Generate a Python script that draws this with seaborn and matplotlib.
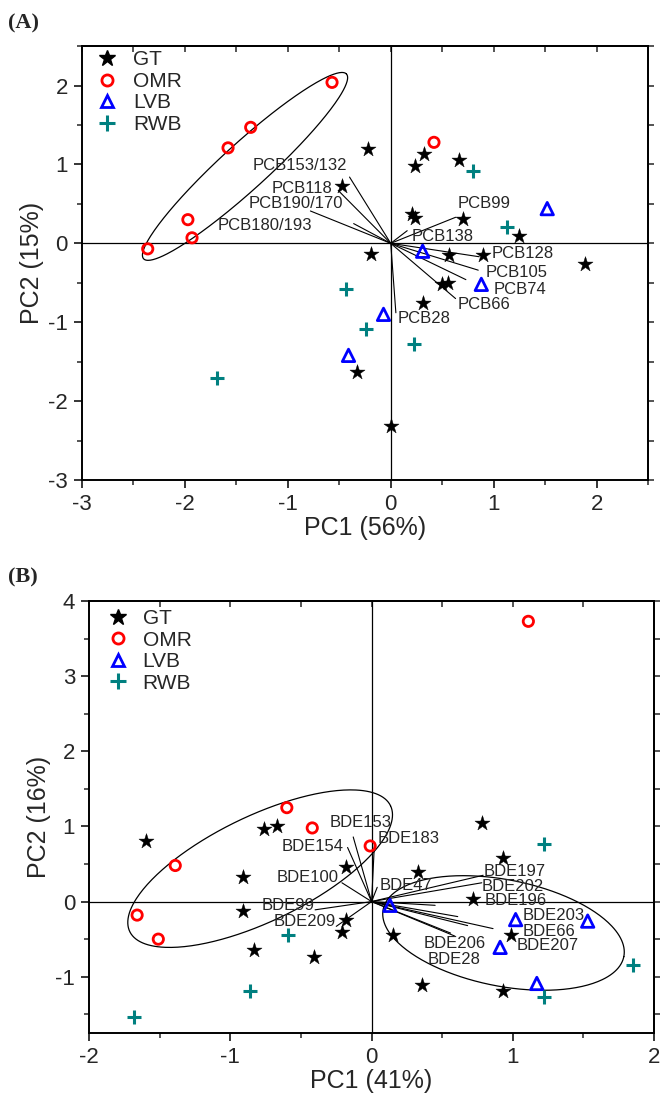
import numpy as np
import matplotlib
matplotlib.use("Agg")
import matplotlib.pyplot as plt
import seaborn as sns
from matplotlib.lines import Line2D

sns.set_style("white")
plt.rcParams['font.family'] = ['Liberation Sans', 'DejaVu Sans']
plt.rcParams['axes.unicode_minus'] = False

# ---------------- Panel A data (PCB) ----------------
a_gt_x = [-0.22, 0.32, 0.24, 0.66, -0.47, 0.21, 0.24, 0.70, 1.25, -0.19, 0.57, 0.90, 1.89, 0.50, 0.56, 0.31, -0.33, 0.00]
a_gt_y = [1.20, 1.13, 0.98, 1.06, 0.73, 0.37, 0.32, 0.31, 0.09, -0.14, -0.15, -0.15, -0.26, -0.51, -0.50, -0.75, -1.63, -2.32]
a_omr_x = [-0.57, -1.36, -1.58, -1.97, -1.93, -2.36, 0.42]
a_omr_y = [2.04, 1.47, 1.21, 0.30, 0.07, -0.07, 1.28]
a_lvb_x = [1.52, 0.31, 0.88, -0.07, -0.41]
a_lvb_y = [0.44, -0.10, -0.52, -0.90, -1.42]
a_rwb_x = [0.80, 1.13, -0.43, -0.24, 0.23, -1.69]
a_rwb_y = [0.92, 0.21, -0.58, -1.09, -1.28, -1.71]

a_load_names = ["PCB153/132", "PCB118", "PCB190/170", "PCB180/193", "PCB99", "PCB138",
                "PCB128", "PCB105", "PCB74", "PCB66", "PCB28"]
a_load_x = [-0.40, -0.51, -0.78, -0.36, 0.63, 0.16, 0.86, 0.85, 0.73, 0.63, 0.05]
a_load_y = [0.84, 0.67, 0.41, 0.25, 0.33, 0.16, -0.17, -0.34, -0.46, -0.70, -0.88]
a_lab_x = [-0.42, -0.57, -0.46, -0.76, 0.65, 0.20, 0.98, 0.92, 1.00, 0.65, 0.07]
a_lab_y = [0.99, 0.70, 0.51, 0.22, 0.51, 0.09, -0.13, -0.37, -0.59, -0.77, -0.95]
a_lab_ha = ["right"] * 4 + ["left"] * 7

# ---------------- Panel B data (BDE) ----------------
b_gt_x = [-1.60, -0.76, -0.67, -0.91, -0.91, -0.83, -0.41, -0.18, -0.18, -0.21, 0.78, 0.93, 0.33, 0.72, 0.99, 0.15, 0.36, 0.93]
b_gt_y = [0.80, 0.97, 1.00, 0.33, -0.13, -0.65, -0.74, 0.46, -0.25, -0.40, 1.05, 0.58, 0.40, 0.03, -0.45, -0.44, -1.11, -1.19]
b_omr_x = [1.11, -0.60, -0.42, -0.01, -1.39, -1.66, -1.51]
b_omr_y = [3.73, 1.25, 0.98, 0.74, 0.48, -0.18, -0.50]
b_lvb_x = [0.13, 1.02, 1.53, 0.91, 1.17]
b_lvb_y = [-0.05, -0.24, -0.26, -0.61, -1.09]
b_rwb_x = [1.22, 1.85, 1.22, -0.59, -0.86, -1.68]
b_rwb_y = [0.77, -0.85, -1.27, -0.44, -1.19, -1.53]

b_load_names = ["BDE153", "BDE154", "BDE183", "BDE100", "BDE99", "BDE209", "BDE47",
                "BDE197", "BDE202", "BDE196", "BDE203", "BDE66", "BDE207", "BDE206", "BDE28"]
b_load_x = [-0.13, -0.17, 0.02, -0.21, -0.40, -0.25, 0.04, 0.79, 0.78, 0.45, 0.61, 0.86, 0.68, 0.59, 0.56]
b_load_y = [0.86, 0.72, 0.76, 0.25, -0.11, -0.33, 0.19, 0.35, 0.25, -0.05, -0.20, -0.36, -0.32, -0.46, -0.42]
b_lab_x = [-0.30, -0.20, 0.04, -0.23, -0.40, -0.25, 0.06, 0.79, 0.78, 0.80, 1.07, 1.07, 1.03, 0.37, 0.40]
b_lab_y = [1.05, 0.73, 0.84, 0.32, -0.05, -0.27, 0.21, 0.40, 0.20, 0.01, -0.19, -0.40, -0.58, -0.56, -0.77]
b_lab_ha = ["left", "right", "left", "right", "right", "right"] + ["left"] * 9

groups = ["GT", "OMR", "LVB", "RWB"]
TEAL = "#008080"


def ellipse_pts(cx, cy, ux, uy, vx, vy):
    t = np.linspace(0, 2 * np.pi, 300)
    return cx + ux * np.cos(t) + vx * np.sin(t), cy + uy * np.cos(t) + vy * np.sin(t)


def draw_panel(ax, gt, omr, lvb, rwb, loads, labels, names, ha, xlim, ylim, leg_anchor, leg_tp):
    ax.axhline(0, color="black", lw=0.9, zorder=1)
    ax.axvline(0, color="black", lw=0.9, zorder=1)
    for lx, ly in zip(*loads):
        ax.plot([0, lx], [0, ly], color="black", lw=0.8, zorder=2)
    for n, tx, ty, h in zip(names, labels[0], labels[1], ha):
        ax.text(tx, ty, n, ha=h, va="center", fontsize=12, zorder=5)
    sns.scatterplot(x=gt[0], y=gt[1], marker="*", color="black", s=130,
                    edgecolor="black", linewidth=0.3, ax=ax, zorder=4, legend=False)
    sns.scatterplot(x=omr[0], y=omr[1], marker="o", s=55, ax=ax, zorder=4, legend=False)
    pc = ax.collections[-1]
    pc.set_facecolor("none"); pc.set_edgecolor("red"); pc.set_linewidth(2.0)
    sns.scatterplot(x=lvb[0], y=lvb[1], marker="^", s=80, ax=ax, zorder=4, legend=False)
    pc = ax.collections[-1]
    pc.set_facecolor("none"); pc.set_edgecolor("blue"); pc.set_linewidth(2.0)
    sns.scatterplot(x=rwb[0], y=rwb[1], marker="+", s=110, ax=ax, zorder=4, legend=False)
    pc = ax.collections[-1]
    pc.set_facecolor(TEAL); pc.set_edgecolor(TEAL); pc.set_linewidth(2.2)

    ax.set_xlim(*xlim)
    ax.set_ylim(*ylim)
    ax.set_xticks(np.arange(np.ceil(xlim[0]), xlim[1] + 0.01, 1))
    ax.set_yticks(np.arange(np.ceil(ylim[0]), ylim[1] + 0.01, 1))
    ax.set_xticks(np.arange(np.ceil(xlim[0] * 2) / 2, xlim[1] + 0.01, 0.5), minor=True)
    ax.set_yticks(np.arange(np.ceil(ylim[0] * 2) / 2, ylim[1] + 0.01, 0.5), minor=True)
    ax.tick_params(which="major", direction="out", length=6, width=1.3, labelsize=16,
                   pad=4, bottom=True, left=True)
    ax.tick_params(which="minor", direction="out", length=3.6, width=1.1, bottom=True, left=True)
    for sp in ax.spines.values():
        sp.set_linewidth(1.4)
        sp.set_color("black")
    sec_x = ax.secondary_xaxis("top")
    sec_x.set_xticks(np.arange(np.ceil(xlim[0] * 2) / 2, xlim[1] + 0.01, 0.5))
    sec_x.tick_params(direction="in", length=4, width=1.1, labeltop=False)
    sec_x.spines["top"].set_linewidth(1.4)
    sec_y = ax.secondary_yaxis("right")
    sec_y.set_yticks(np.arange(np.ceil(ylim[0] * 2) / 2, ylim[1] + 0.01, 0.5))
    sec_y.tick_params(direction="out", length=4, width=1.1, labelright=False)
    sec_y.spines["right"].set_linewidth(1.4)

    handles = [
        Line2D([], [], ls="", marker="*", color="black", markersize=12),
        Line2D([], [], ls="", marker="o", mfc="none", mec="red", mew=2, markersize=8),
        Line2D([], [], ls="", marker="^", mfc="none", mec="blue", mew=2, markersize=9),
        Line2D([], [], ls="", marker="+", color=TEAL, mew=2.2, markersize=11),
    ]
    ax.legend(handles, groups, loc="upper left", frameon=False, fontsize=15,
              handlelength=1.0, handletextpad=leg_tp, labelspacing=0.12,
              borderaxespad=0.0, borderpad=0.0, bbox_to_anchor=leg_anchor)


fig = plt.figure(figsize=(6.6, 10.97), dpi=100)
axA = fig.add_axes([0.124, 0.5624, 0.858, 0.3956])
axB = fig.add_axes([0.135, 0.0583, 0.856, 0.3938])

draw_panel(axA, (a_gt_x, a_gt_y), (a_omr_x, a_omr_y), (a_lvb_x, a_lvb_y), (a_rwb_x, a_rwb_y),
           (a_load_x, a_load_y), (a_lab_x, a_lab_y), a_load_names, a_lab_ha,
           (-3, 2.5), (-3, 2.5), (0.0265, 0.99), 0.75)
ex, ey = ellipse_pts(-1.415, 0.975, 0.985, 1.171, 0.151, -0.215)
axA.plot(ex, ey, color="black", lw=0.9, zorder=3)
axA.set_xlabel("PC1 (56%)", fontsize=18, labelpad=1)
axA.set_ylabel("PC2 (15%)", fontsize=18, labelpad=3)

draw_panel(axB, (b_gt_x, b_gt_y), (b_omr_x, b_omr_y), (b_lvb_x, b_lvb_y), (b_rwb_x, b_rwb_y),
           (b_load_x, b_load_y), (b_lab_x, b_lab_y), b_load_names, b_lab_ha,
           (-2, 2), (-1.75, 4), (0.032, 0.981), 0.7)
ex, ey = ellipse_pts(-0.789, 0.438, 0.923, 0.838, -0.162, 0.630)
axB.plot(ex, ey, color="black", lw=0.9, zorder=3)
ex, ey = ellipse_pts(0.934, -0.418, 0.852, -0.314, 0.073, 0.695)
axB.plot(ex, ey, color="black", lw=0.9, zorder=3)
axB.set_xlabel("PC1 (41%)", fontsize=18, labelpad=1)
axB.set_ylabel("PC2 (16%)", fontsize=18, labelpad=3)

fig.text(0.012, 0.979, "(A)", fontsize=16, fontweight="bold", family="Liberation Serif", va="center")
fig.text(0.012, 0.474, "(B)", fontsize=16, fontweight="bold", family="Liberation Serif", va="center")

fig.savefig("out.png", dpi=100)
